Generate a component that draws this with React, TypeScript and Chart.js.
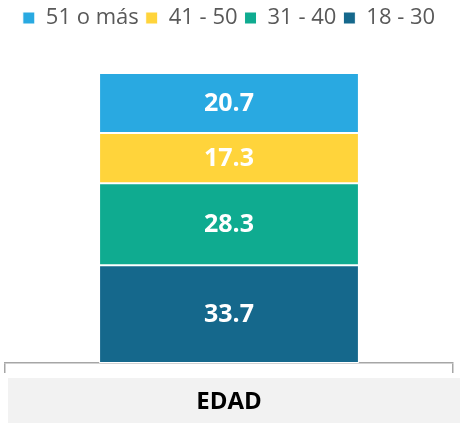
import React, { useEffect, useRef } from "react";
import { Chart, registerables } from "chart.js";

Chart.register(...registerables);

const categories = ["EDAD"];
const seriesNames = ["18 - 30", "31 - 40", "41 - 50", "51 o más"];
const values18to30 = [33.7];
const values31to40 = [28.3];
const values41to50 = [17.3];
const values51plus = [20.7];
const colors = ["#15688C", "#0FAB90", "#FFD43B", "#29A9E1"];

const FONT = "'Open Sans', 'Noto Sans', sans-serif";

export default function App() {
  const ref = useRef<HTMLCanvasElement | null>(null);

  useEffect(() => {
    if (!ref.current) return;
    const seriesValues = [values18to30, values31to40, values41to50, values51plus];

    const legendSpacer = {
      id: "legendSpacer",
      beforeInit(chart: any) {
        const origFit = chart.legend.fit;
        chart.legend.fit = function () {
          origFit.bind(chart.legend)();
          this.height += 34;
        };
      },
    };

    const bandPlugin = {
      id: "band",
      beforeDraw(chart: any) {
        const x = chart.scales.x;
        const ctx = chart.ctx;
        ctx.save();
        ctx.fillStyle = "#F2F2F2";
        ctx.fillRect(x.left + 3, x.top + 15, x.right - x.left + 4, 45);
        ctx.restore();
      },
    };

    const labelPlugin = {
      id: "segLabels",
      afterDatasetsDraw(chart: any) {
        const ctx = chart.ctx;
        ctx.save();
        ctx.fillStyle = "#FFFFFF";
        ctx.font = `bold 25px ${FONT}`;
        ctx.textAlign = "center";
        ctx.textBaseline = "middle";
        chart.data.datasets.forEach((ds: any, i: number) => {
          const meta = chart.getDatasetMeta(i);
          meta.data.forEach((el: any, j: number) => {
            const v = ds.data[j];
            ctx.fillText(v.toFixed(1), el.x, (el.y + el.base) / 2 + 1);
          });
        });
        ctx.restore();
      },
    };

    const chart = new Chart(ref.current, {
      type: "bar",
      data: {
        labels: categories,
        datasets: seriesNames.map((name, i) => ({
          label: name,
          data: seriesValues[i],
          backgroundColor: colors[i],
          borderColor: "#FFFFFF",
          borderWidth: 1,
          borderSkipped: false,
          categoryPercentage: 1,
          barPercentage: 0.58,
        })),
      },
      options: {
        animation: false,
        responsive: false,
        maintainAspectRatio: false,
        layout: { padding: { left: 5, right: 8, top: 0, bottom: 0 } },
        plugins: {
          legend: {
            position: "top",
            reverse: true,
            labels: {
              boxWidth: 12,
              boxHeight: 12,
              padding: 7,
              color: "#595959",
              font: { family: FONT, size: 22 },
            },
          },
          tooltip: { enabled: false },
        },
        scales: {
          x: {
            stacked: true,
            afterFit(scale: any) {
              scale.height = 62;
            },
            grid: {
              offset: true,
              drawOnChartArea: false,
              drawTicks: true,
              tickLength: 10,
              color: "#A6A6A6",
              lineWidth: 1.5,
            },
            border: { display: true, color: "#A6A6A6", width: 1.5 },
            ticks: {
              color: "#000000",
              padding: 15,
              font: { family: FONT, size: 24, weight: "bold" },
            },
          },
          y: {
            stacked: true,
            display: false,
            min: 0,
            max: 100,
          },
        },
      },
      plugins: [legendSpacer, bandPlugin, labelPlugin],
    });

    return () => chart.destroy();
  }, []);

  return (
    <div style={{ position: "fixed", left: 0, top: 0, width: 461, height: 425, background: "#FFFFFF" }}>
      <canvas ref={ref} width={461} height={425} style={{ display: "block" }} />
    </div>
  );
}
